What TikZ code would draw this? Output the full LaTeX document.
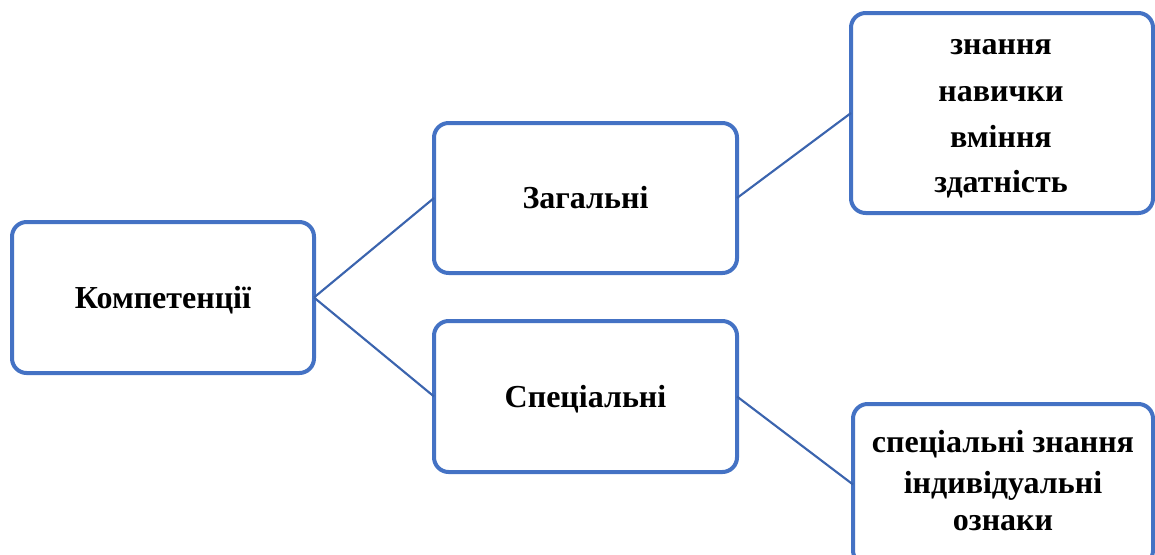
\documentclass[tikz,border=0pt]{standalone}
\usepackage{fontspec}
\setmainfont{Liberation Serif}
\definecolor{frameblue}{HTML}{4472C4}
\definecolor{linkblue}{HTML}{3B64AE}
\tikzset{
  box/.style={draw=frameblue, line width=3pt, rounded corners=11pt, fill=white, inner sep=0pt, outer sep=0pt},
  link/.style={draw=linkblue, line width=1.6pt},
  label/.style={anchor=base, inner sep=0pt, font=\fontsize{24pt}{28pt}\selectfont\bfseries}
}
\begin{document}
\begin{tikzpicture}[x=0.75pt,y=-0.75pt]
\useasboundingbox (0,0) rectangle (1155,554);
\clip (0,0) rectangle (1155,554);
% boxes
\node[box, minimum width=226.5pt, minimum height=113.25pt] (komp) at (163,297.5) {};
\node[box, minimum width=227.25pt, minimum height=112.5pt] (zag) at (585.5,198) {};
\node[box, minimum width=227.25pt, minimum height=113.25pt] (spec) at (585.5,396.5) {};
\node[box, minimum width=226.5pt, minimum height=150pt] (zn) at (1002,113) {};
\node[box, minimum width=225pt, minimum height=120.75pt] (sz) at (1003,484.5) {};
% connectors
\draw[link] (komp.east) -- (zag.west);
\draw[link] (komp.east) -- (spec.west);
\draw[link] (zag.east) -- (zn.west);
\draw[link] (spec.east) -- (sz.west);
% texts
\node[label] (t1) at (163,308) {Компетенції};
\node[label] (t2) at (585.5,208) {Загальні};
\node[label] (t3) at (585.5,407) {Спеціальні};
\node[label] (t4) at (1001,54) {знання};
\node[label] (t5) at (1001,101) {навички};
\node[label] (t6) at (1001,147) {вміння};
\node[label] (t7) at (1001,192) {здатність};
\node[label] (t8) at (1003,452) {спеціальні знання};
\node[label] (t9) at (1003,493) {індивідуальні};
\node[label] (t10) at (1003,530) {ознаки};
\end{tikzpicture}
\end{document}
